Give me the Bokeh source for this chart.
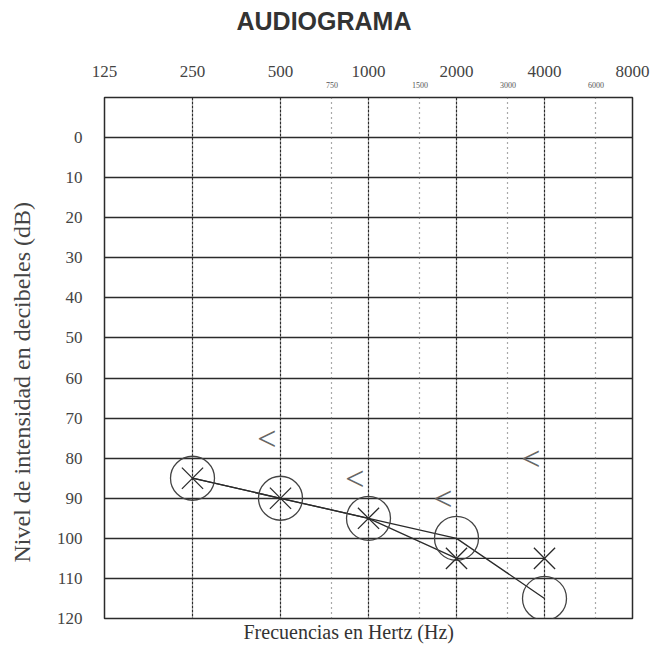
from bokeh.plotting import figure
from bokeh.models import (Range1d, FixedTicker, LogAxis, Grid, Title,
                          CustomJSTickFormatter, ColumnDataSource)
from bokeh.core.properties import value
from bokeh.embed import file_html
from bokeh.resources import INLINE

# ---- data ----
octave_freqs = [125, 250, 500, 1000, 2000, 4000, 8000]
mid_freqs = [750, 1500, 3000, 6000]
db_ticks = [0, 10, 20, 30, 40, 50, 60, 70, 80, 90, 100, 110, 120]

test_freqs = [250, 500, 1000, 2000, 4000]
circle_db = [85, 90, 95, 100, 115]   # O marks
cross_db = [85, 90, 95, 105, 105]    # X marks
bone_freqs = [500, 1000, 2000, 4000]
bone_db = [75, 85, 90, 80]
bone_sym = ["<", "<", "<", "<"]

INK = "#2b2b2b"
SERIF = "Liberation Serif"

p = figure(width=656, height=650, x_axis_type="log",
           x_range=Range1d(125, 8000), y_range=Range1d(120, -10),
           x_axis_location=None, output_backend="svg", toolbar_location=None,
           min_border_left=104, min_border_right=24, min_border_top=97,
           min_border_bottom=32)
p.background_fill_color = "white"
p.border_fill_color = "white"
p.outline_line_color = INK
p.outline_line_width = 1.5
p.grid.visible = False

# y axis
ya = p.yaxis[0]
ya.ticker = FixedTicker(ticks=db_ticks)
ya.major_label_text_font = SERIF
ya.major_label_text_font_size = "17px"
ya.major_label_text_color = "#444444"
ya.major_tick_line_color = None
ya.minor_tick_line_color = None
ya.axis_line_color = None
ya.major_label_standoff = 16

# spacer between tick labels and y title
p.add_layout(Title(text=" ", text_font_size="1px", standoff=14), "left")
p.add_layout(Title(text="Nivel de intensidad  en decibeles (dB)", align="left",
                   offset=56, text_font=SERIF, text_font_size="24px",
                   text_font_style="normal", text_color="#444444",
                   standoff=4), "left")

fmt = CustomJSTickFormatter(code="return String(Math.round(tick));")

# small intermediate-frequency axis (closest to frame)
small_ax = LogAxis(ticker=FixedTicker(ticks=mid_freqs), formatter=fmt)
small_ax.major_label_text_font = SERIF
small_ax.major_label_text_font_size = "8px"
small_ax.major_label_text_color = "#555555"
small_ax.major_tick_line_color = None
small_ax.minor_tick_line_color = None
small_ax.axis_line_color = None
small_ax.major_label_standoff = 4
p.add_layout(small_ax, "above")

# main octave axis
main_ax = LogAxis(ticker=FixedTicker(ticks=octave_freqs), formatter=fmt)
main_ax.major_label_text_font = SERIF
main_ax.major_label_text_font_size = "17px"
main_ax.major_label_text_color = "#444444"
main_ax.major_tick_line_color = None
main_ax.minor_tick_line_color = None
main_ax.axis_line_color = None
main_ax.major_label_standoff = -4
p.add_layout(main_ax, "above")

# spacer, then the chart title at the very top
p.add_layout(Title(text=" ", text_font_size="1px", standoff=24), "above")
p.add_layout(Title(text="AUDIOGRAMA", align="left", offset=132,
                   text_font="Liberation Sans", text_font_size="25px",
                   text_font_style="bold", text_color="#333333",
                   standoff=2), "above")

# x label at bottom
p.add_layout(Title(text="Frecuencias en Hertz (Hz)", align="left", offset=139,
                   text_font=SERIF, text_font_size="20px",
                   text_font_style="normal", text_color="#333333",
                   standoff=0), "below")

# grids
p.add_layout(Grid(dimension=1, ticker=FixedTicker(ticks=db_ticks[:-1]),
                  grid_line_color=INK, grid_line_width=1.4))
p.add_layout(Grid(dimension=0, ticker=FixedTicker(ticks=octave_freqs[1:-1]),
                  grid_line_color=INK, grid_line_width=1.2,
                  grid_line_dash="3 1"))
p.add_layout(Grid(dimension=0, ticker=FixedTicker(ticks=mid_freqs),
                  grid_line_color="#555555", grid_line_width=1.2,
                  grid_line_dash="1 4"))

# data
p.line(test_freqs, circle_db, line_color=INK, line_width=1.3)
p.line(test_freqs, cross_db, line_color=INK, line_width=1.3)
p.scatter(test_freqs, circle_db, marker="circle", size=44, fill_color=None,
          line_color="#444444", line_width=1.3)
p.scatter(test_freqs, cross_db, marker="x", size=30, line_color=INK,
          line_width=1.3)

bsrc = ColumnDataSource(dict(f=bone_freqs, db=bone_db, s=bone_sym))
p.text("f", "db", text="s", source=bsrc, x_offset=-4, text_align="right",
       text_baseline="middle", text_font=value(SERIF),
       text_font_size="34px", text_color="#666666")

open("out.html", "w").write(file_html(p, INLINE))
